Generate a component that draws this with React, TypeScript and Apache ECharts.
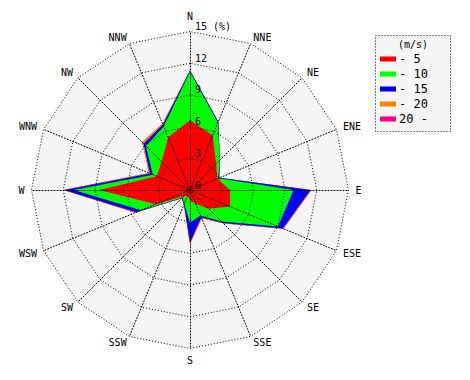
import React, { useEffect, useRef } from 'react';
import * as echarts from 'echarts';

// Directions, clockwise from north
const directions = ['N', 'NNE', 'NE', 'ENE', 'E', 'ESE', 'SE', 'SSE', 'S', 'SSW', 'SW', 'WSW', 'W', 'WNW', 'NW', 'NNW'];
const speedClasses = ['- 5', '- 10', '- 15', '- 20', '20 -'];
const classColors = ['#ff0000', '#00ff00', '#0000ff', '#ff8000', '#ff0080'];
const radialTicks = [0, 3, 6, 9, 12, 15];
const radialMax = 15;

// Frequency (%) per speed class, clockwise from N
const freqTo5 = [6.6, 5.6, 3.5, 2.8, 3.8, 4.1, 2.5, 1.4, 1.0, 0.6, 0.8, 3.5, 8.6, 3.4, 3.8, 5.4];
const freqTo10 = [4.6, 1.3, 0.5, 0.1, 6.0, 4.9, 1.7, 1.2, 2.1, 0.8, 0.2, 1.5, 2.4, 0.4, 2.1, 1.1];
const freqTo15 = [0.1, 0.1, 0.0, 0.1, 1.6, 0.5, 0.2, 0.2, 1.9, 0.1, 0.1, 0.5, 0.9, 0.3, 0.3, 0.2];
const freqTo20 = [0.0, 0.0, 0.0, 0.0, 0.1, 0.1, 0.1, 0.1, 0.1, 0.0, 0.0, 0.1, 0.1, 0.1, 0.2, 0.1];
const freqOver20 = [0, 0, 0, 0, 0, 0, 0, 0, 0, 0, 0, 0, 0, 0, 0, 0];

const classFreqs = [freqTo5, freqTo10, freqTo15, freqTo20, freqOver20];

const MONO = '"DejaVu Sans Mono", "Liberation Mono", monospace';

// radar indicators run counter-clockwise; reorder so the rose runs clockwise
const toRadarOrder = <T,>(arr: T[]): T[] => [arr[0], ...arr.slice(1).reverse()];

export default function App() {
  const ref = useRef<HTMLDivElement>(null);
  useEffect(() => {
    if (!ref.current) return;
    const chart = echarts.init(ref.current, null, { renderer: 'svg' });

    const cumulative: number[][] = [];
    classFreqs.forEach((f, k) => {
      cumulative.push(f.map((v, i) => +(v + (k > 0 ? cumulative[k - 1][i] : 0)).toFixed(2)));
    });

    const center = [190, 190];
    const radius = 158.5;
    const dirOrder = toRadarOrder(directions);

    const indicatorsBase = dirOrder.map((d) => ({ name: d, min: 0, max: radialMax }));
    const indicatorsTop = dirOrder.map((d, i) =>
      i === 0
        ? {
            name: d,
            min: 0,
            max: radialMax,
            axisLabel: {
              show: true,
              color: '#000',
              fontFamily: MONO,
              fontSize: 10,
              align: 'left',
              verticalAlign: 'bottom',
              margin: -5,
              formatter: (v: number) => (v === radialMax ? `${v} (%)` : radialTicks.includes(v) ? String(v) : ''),
            },
          }
        : { name: d, min: 0, max: radialMax }
    );

    const dotted = [1, 2];

    const option: any = {
      animation: false,
      backgroundColor: '#ffffff',
      radar: [
        {
          center,
          radius,
          startAngle: 90,
          shape: 'polygon',
          splitNumber: radialTicks.length - 1,
          indicator: indicatorsBase,
          axisName: { show: false },
          axisLine: { show: false },
          axisTick: { show: false },
          axisLabel: { show: false },
          splitLine: { show: false },
          splitArea: { show: true, areaStyle: { color: ['#f5f5f5'] } },
          z: 0,
        },
        {
          center,
          radius,
          startAngle: 90,
          shape: 'polygon',
          splitNumber: radialTicks.length - 1,
          indicator: indicatorsTop,
          nameGap: 7,
          axisName: { color: '#000', fontFamily: MONO, fontSize: 10 },
          axisLine: { show: true, lineStyle: { color: '#000', width: 1, type: dotted } },
          axisTick: { show: false },
          axisLabel: { show: false },
          splitLine: { show: true, lineStyle: { color: '#000', width: 1, type: dotted } },
          splitArea: { show: false },
          z: 10,
        },
      ],
      legend: {
        orient: 'vertical',
        left: 380,
        top: 53,
        padding: 0,
        itemWidth: 16,
        itemHeight: 5,
        itemGap: 3,
        icon: 'rect',
        selectedMode: false,
        data: speedClasses,
        textStyle: { color: '#000', fontFamily: MONO, fontSize: 12, lineHeight: 12, padding: [0, 0, 0, -2] },
        z: 20,
      },
      graphic: [
        {
          type: 'rect',
          shape: { x: 375.5, y: 35.5, width: 75, height: 96 },
          style: { fill: '#f5f5f5', stroke: '#000', lineWidth: 1, lineDash: [1, 2] },
          z: 1,
        },
        {
          type: 'text',
          x: 413,
          y: 44,
          style: { text: '(m/s)', fill: '#000', font: `10px ${MONO}`, textAlign: 'center', textVerticalAlign: 'middle' },
          z: 2,
        },
      ],
      series: [
        {
          type: 'radar',
          radarIndex: 0,
          z: 2,
          symbol: 'none',
          data: speedClasses
            .map((name, k) => ({
              name,
              value: toRadarOrder(cumulative[k]),
              itemStyle: { color: classColors[k] },
              lineStyle: { width: 0, color: classColors[k] },
              areaStyle: { color: classColors[k], opacity: 1 },
            }))
            .reverse(),
        },
      ],
    };

    chart.setOption(option);
    return () => chart.dispose();
  }, []);

  return <div ref={ref} style={{ position: 'fixed', left: 0, top: 0, width: 470, height: 380 }} />;
}
